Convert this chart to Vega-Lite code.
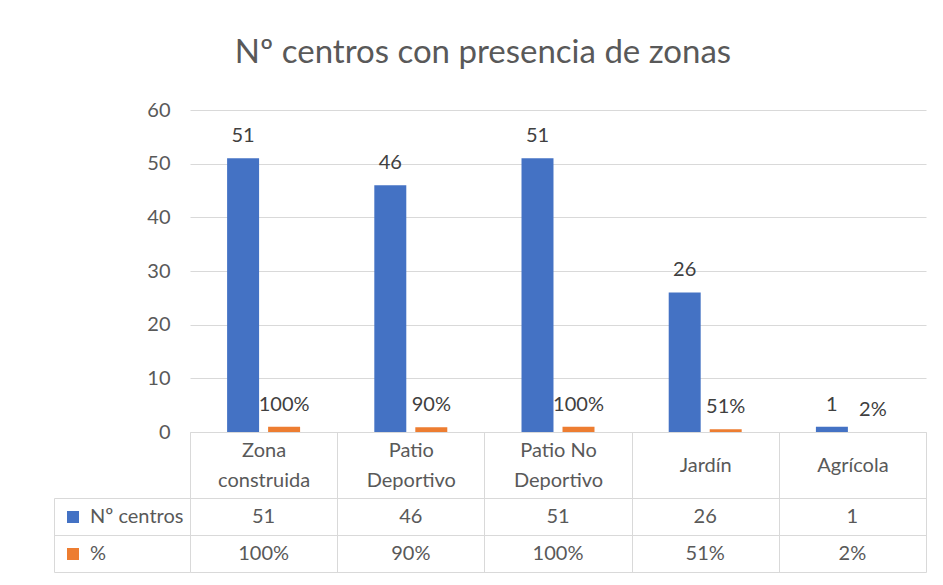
{
  "$schema": "https://vega.github.io/schema/vega-lite/v6.json",
  "width": 736,
  "height": 322,
  "autosize": {"type": "none"},
  "padding": {"left": 190, "top": 110, "right": 17, "bottom": 153},
  "background": "white",
  "title": {
    "text": "Nº centros con presencia de zonas",
    "orient": "top",
    "frame": "group",
    "anchor": "middle",
    "dx": -75,
    "baseline": "alphabetic",
    "offset": 4,
    "font": "Lato",
    "fontSize": 33,
    "fontWeight": "normal",
    "color": "#595959"
  },
  "config": {
    "view": {"stroke": null},
    "font": "Lato"
  },
  "data": {
    "values": [
      {"zona": "Zona construida", "serie": "Nº centros", "valor": 51},
      {"zona": "Zona construida", "serie": "%", "valor": 1},
      {"zona": "Patio Deportivo", "serie": "Nº centros", "valor": 46},
      {"zona": "Patio Deportivo", "serie": "%", "valor": 0.9},
      {"zona": "Patio No Deportivo", "serie": "Nº centros", "valor": 51},
      {"zona": "Patio No Deportivo", "serie": "%", "valor": 1},
      {"zona": "Jardín", "serie": "Nº centros", "valor": 26},
      {"zona": "Jardín", "serie": "%", "valor": 0.51},
      {"zona": "Agrícola", "serie": "Nº centros", "valor": 1},
      {"zona": "Agrícola", "serie": "%", "valor": 0.02}
    ]
  },
  "encoding": {
    "x": {
      "field": "zona",
      "type": "nominal",
      "sort": ["Zona construida", "Patio Deportivo", "Patio No Deportivo", "Jardín", "Agrícola"],
      "scale": {"paddingInner": 0, "paddingOuter": 0},
      "axis": {
        "title": null,
        "orient": "bottom",
        "domain": true,
        "domainColor": "#d9d9d9",
        "domainWidth": 1,
        "ticks": true,
        "tickBand": "extent",
        "tickSize": 140,
        "tickColor": "#d9d9d9",
        "tickWidth": 1,
        "grid": false,
        "labelAngle": 0,
        "labelFont": "Lato",
        "labelFontSize": 20,
        "labelColor": "#595959",
        "labelBaseline": "middle",
        "labelLineHeight": 30,
        "labelPadding": {"condition": {"test": "datum.value === 'Jardín' || datum.value === 'Agrícola'", "value": -107}, "value": -122},
        "labelLimit": 300,
        "labelExpr": "datum.value === 'Zona construida' ? ['Zona', 'construida'] : datum.value === 'Patio Deportivo' ? ['Patio', 'Deportivo'] : datum.value === 'Patio No Deportivo' ? ['Patio No', 'Deportivo'] : datum.label"
      }
    }
  },
  "layer": [
    {
      "encoding": {
        "xOffset": {
          "field": "serie",
          "type": "nominal",
          "scale": {"domain": ["Nº centros", "%"], "paddingInner": 0.22, "paddingOuter": 0.905}
        },
        "y": {
          "field": "valor",
          "type": "quantitative",
          "scale": {"domain": [0, 60]},
          "axis": {
            "title": null,
            "values": [0, 10, 20, 30, 40, 50, 60],
            "domain": false,
            "ticks": false,
            "tickSize": 0,
            "labelPadding": 20,
            "labelFont": "Lato",
            "labelFontSize": 20,
            "labelColor": "#595959",
            "grid": true,
            "gridColor": "#d9d9d9",
            "gridWidth": 1
          }
        }
      },
      "layer": [
        {
          "mark": {"type": "bar"},
          "encoding": {
            "color": {
              "field": "serie",
              "type": "nominal",
              "scale": {"domain": ["Nº centros", "%"], "range": ["#4472c4", "#ed7d31"]},
              "legend": {
                "title": null,
                "orient": "none",
                "legendX": -127,
                "legendY": 397,
                "direction": "vertical",
                "symbolType": "square",
                "symbolSize": 144,
                "symbolStrokeWidth": 0,
                "labelFont": "Lato",
                "labelFontSize": 20,
                "labelColor": "#595959",
                "labelOffset": 7,
                "rowPadding": 17,
                "padding": 0
              }
            }
          }
        },
        {
          "transform": [{"filter": "datum.serie === 'Nº centros'"}],
          "mark": {"type": "text", "baseline": "alphabetic", "dy": -16, "fontSize": 20, "font": "Lato", "color": "#404040"},
          "encoding": {
            "text": {"field": "valor", "type": "quantitative", "format": "d"}
          }
        },
        {
          "transform": [{"filter": "datum.serie === '%'"}],
          "mark": {"type": "text", "baseline": "alphabetic", "dy": -16, "fontSize": 20, "font": "Lato", "color": "#404040"},
          "encoding": {
            "text": {"field": "valor", "type": "quantitative", "format": ".0%"}
          }
        }
      ]
    },
    {
      "encoding": {
        "y": {
          "field": "serie",
          "type": "nominal",
          "scale": {"domain": ["Nº centros", "%"], "range": [388, 462], "paddingInner": 0, "paddingOuter": 0},
          "axis": {
            "title": null,
            "orient": "right",
            "offset": -872,
            "labels": false,
            "domain": true,
            "domainColor": "#d9d9d9",
            "ticks": true,
            "tickBand": "extent",
            "tickSize": 136,
            "tickColor": "#d9d9d9",
            "grid": true,
            "gridColor": "#d9d9d9"
          }
        }
      },
      "layer": [
        {
          "transform": [{"filter": "datum.serie === 'Nº centros'"}],
          "mark": {"type": "text", "fontSize": 20, "font": "Lato", "color": "#595959"},
          "encoding": {
            "text": {"field": "valor", "type": "quantitative", "format": "d"}
          }
        },
        {
          "transform": [{"filter": "datum.serie === '%'"}],
          "mark": {"type": "text", "fontSize": 20, "font": "Lato", "color": "#595959"},
          "encoding": {
            "text": {"field": "valor", "type": "quantitative", "format": ".0%"}
          }
        }
      ]
    }
  ],
  "resolve": {"scale": {"y": "independent"}}
}
